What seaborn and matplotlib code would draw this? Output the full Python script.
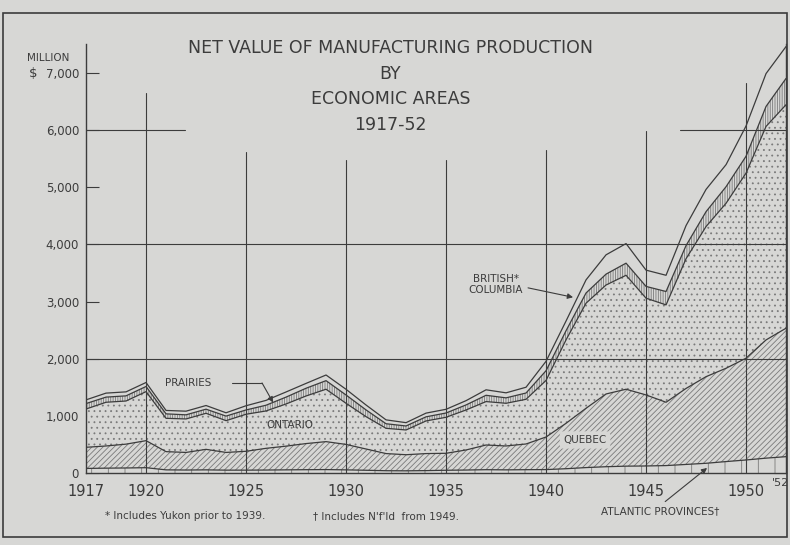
import numpy as np
import pandas as pd
import matplotlib.pyplot as plt
import seaborn as sns
from matplotlib.patches import Rectangle

sns.set_style("white")
plt.rcParams['font.family'] = ['DejaVu Sans']
plt.rcParams['hatch.linewidth'] = 0.6

# -----------------------------
# Data (million $)
# -----------------------------
years = list(range(1917, 1953))
atlantic = [80, 85, 88, 93, 55, 52, 55, 50, 50, 52, 55, 58, 60, 55, 48, 40, 38, 42,
            48, 52, 58, 55, 58, 60, 75, 95, 110, 120, 123, 130, 150, 170, 200, 228, 260, 286]
quebec = [370, 388, 417, 473, 319, 308, 359, 310, 330, 380, 415, 457, 489, 445, 372, 300, 282, 298,
          297, 351, 432, 418, 450, 570, 795, 1038, 1273, 1346, 1243, 1108, 1330, 1516, 1633, 1781, 2069, 2248]
ontario = [670, 765, 755, 858, 583, 586, 631, 556, 648, 654, 738, 833, 917, 720, 566, 442, 433, 571,
           630, 700, 760, 747, 782, 990, 1460, 1839, 1907, 1994, 1693, 1704, 2270, 2627, 2887, 3239, 3736, 3911]
prairies = [95, 90, 90, 90, 78, 72, 72, 80, 75, 100, 120, 135, 150, 145, 118, 80, 70, 72,
            75, 88, 110, 95, 110, 170, 160, 178, 190, 212, 206, 234, 230, 260, 290, 295, 350, 460]
british_columbia = [65, 70, 70, 70, 60, 64, 64, 58, 74, 85, 90, 85, 99, 100, 86, 68, 58, 65,
                    65, 75, 96, 88, 101, 165, 170, 230, 338, 343, 285, 284, 350, 390, 386, 530, 575, 558]

regions = ["Atlantic Provinces", "Quebec", "Ontario", "Prairies", "British Columbia"]
values = [atlantic, quebec, ontario, prairies, british_columbia]

df = pd.DataFrame({"Year": years})
for name, vals in zip(regions, values):
    df[name] = vals
cum = df[regions].cumsum(axis=1)

bg = "#d7d7d5"
ink = "#3c3c3c"
hatches = ["|", "//////", "...", "|||||||", ""]

fig = plt.figure(figsize=(7.9, 5.45), dpi=100, facecolor=bg)
ax = fig.add_axes([0.1089, 0.1321, 0.8861, 0.7864])
ax.set_facecolor(bg)

# -----------------------------
# Stacked bands
# -----------------------------
lower = np.zeros(len(years))
for name, h in zip(regions, hatches):
    upper = cum[name].values
    ax.fill_between(df["Year"], lower, upper, facecolor=bg, edgecolor="#7a7a7a",
                    hatch=h, linewidth=0, zorder=2)
    sns.lineplot(x=df["Year"], y=upper, ax=ax, color=ink, linewidth=0.9, zorder=3)
    lower = upper

# -----------------------------
# Grid (partial, as in the original drawing)
# -----------------------------
gl = dict(color=ink, linewidth=0.8, zorder=2.5)
vtops = {1920: 6650, 1925: 5620, 1930: 5480, 1935: 5480, 1940: 5650, 1945: 5980, 1950: 6830}
for yr, top in vtops.items():
    ax.plot([yr, yr], [0, top], **gl)
for yv in [2000, 4000]:
    ax.plot([1917, 1952], [yv, yv], **gl)
ax.plot([1917, 1921.95], [6000, 6000], **gl)
ax.plot([1946.7, 1952], [6000, 6000], **gl)

ax.set_xlim(1917, 1952)
ax.set_ylim(0, 7500)
ax.set_xlabel("")
ax.set_ylabel("")

ax.set_xticks([1917, 1920, 1925, 1930, 1935, 1940, 1945, 1950])
ax.set_xticklabels(["1917", "1920", "1925", "1930", "1935", "1940", "1945", "1950"])
ax.set_xticks(years, minor=True)
ax.set_yticks(range(0, 8000, 1000))
ax.set_yticklabels(["0", "1,000", "2,000", "3,000", "4,000", "5,000", "6,000", "7,000"])
ax.tick_params(axis="x", which="major", direction="in", length=0, pad=8,
               labelsize=10.5, colors=ink)
ax.tick_params(axis="x", which="minor", direction="in", length=5, width=0.7,
               color=ink, bottom=True)
ax.tick_params(axis="y", direction="in", length=9, width=0.8, color=ink,
               left=True, right=True, pad=5, labelsize=8.5, labelcolor=ink)
ax.text(1952.15, -80, "'52", fontsize=8, color=ink, ha="right", va="top")

for s in ["left", "right", "bottom"]:
    ax.spines[s].set_color(ink)
    ax.spines[s].set_linewidth(1.0)
ax.spines["top"].set_visible(False)

# -----------------------------
# Titles and labels
# -----------------------------
fig.text(0.034, 0.888, "MILLION", fontsize=7.5, color=ink)
fig.text(0.036, 0.866, "$", fontsize=9.5, color=ink, va="center")
title_lines = ["NET VALUE OF MANUFACTURING PRODUCTION", "BY", "ECONOMIC AREAS", "1917-52"]
for i, line in enumerate(title_lines):
    fig.text(0.494, 0.912 - i * 0.047, line, fontsize=12.5, color=ink, ha="center",
             va="center", bbox=dict(facecolor=bg, edgecolor="none", pad=1))

lab = dict(fontsize=7.5, color=ink)
ax.text(1922.1, 1576, "PRAIRIES", ha="center", va="center", **lab)
ax.plot([1924.3, 1925.8], [1576, 1576], color=ink, linewidth=0.8, zorder=4)
ax.annotate("", xy=(1926.35, 1235), xytext=(1925.8, 1576),
            arrowprops=dict(arrowstyle="-|>", color=ink, lw=0.8, shrinkA=0, shrinkB=0,
                            mutation_scale=8))
ax.text(1927.2, 841, "ONTARIO", ha="center", va="center", **lab)
ax.text(1937.5, 3292, "BRITISH*\nCOLUMBIA", ha="center", va="center", linespacing=1.1, **lab)
ax.annotate("", xy=(1941.35, 3075), xytext=(1939.1, 3240),
            arrowprops=dict(arrowstyle="-|>", color=ink, lw=0.8, shrinkA=0, shrinkB=0,
                            mutation_scale=8))
ax.text(1941.95, 578, "QUEBEC", ha="center", va="center", **lab,
        bbox=dict(facecolor=bg, edgecolor="none", boxstyle="round,pad=0.35"))
ax.annotate("ATLANTIC PROVINCES\u2020", xy=(1948.05, 88), xytext=(1945.7, -660),
            ha="center", va="center", annotation_clip=False, **lab,
            arrowprops=dict(arrowstyle="-|>", color=ink, lw=0.8, shrinkA=1, shrinkB=0,
                            relpos=(0.5, 1.0), mutation_scale=8))

fig.text(0.133, 0.047, "* Includes Yukon prior to 1939.", fontsize=7.5, color=ink)
fig.text(0.396, 0.047, "\u2020 Includes N'f'ld  from 1949.", fontsize=7.5, color=ink)

# outer frame
fig.patches.append(Rectangle((0.004, 0.015), 0.992, 0.962, transform=fig.transFigure,
                             fill=False, edgecolor=ink, linewidth=1.2))

plt.savefig("out.png", dpi=100, facecolor=bg)
